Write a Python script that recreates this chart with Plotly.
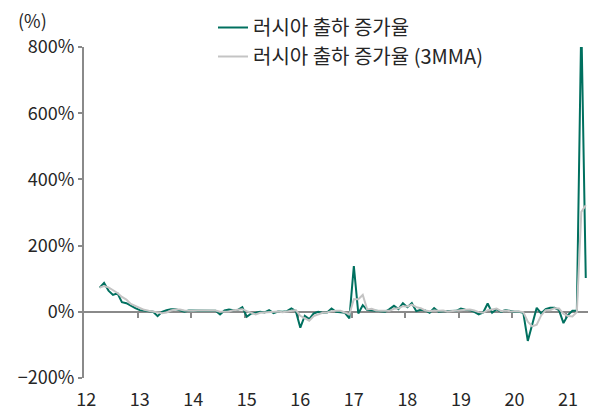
import plotly.graph_objects as go

# month index: Jan 2012 = 0 ; data from Apr 2012 (3) to May 2021 (112)
start_month = 3
year_labels = ["12", "13", "14", "15", "16", "17", "18", "19", "20", "21"]
y_ticks = [-200, 0, 200, 400, 600, 800]
y_tick_text = ["\u2212200%", "0%", "200%", "400%", "600%", "800%"]

name_main = "러시아 출하 증가율"
name_ma = "러시아 출하 증가율 (3MMA)"

growth = [
    73, 87, 64, 51, 56, 29, 26, 18, 11,                 # 2012 Apr-Dec
    5, 3, 2, 0, -13, 0, 5, 8, 8, 5, 0, 4,                # 2013
    4, 3, 5, 5, 5, 3, -8, 4, 7, 5, 6, 14,                # 2014
    -15, -5, -3, 0, -2, 5, -4, 1, 0, 2, 10, 2,           # 2015
    -48, -12, -22, -5, 0, -3, -2, 10, 0, -2, -3, -20,    # 2016
    138, -5, 20, 5, 3, 3, 2, 0, 8, 18, 8, 26,            # 2017
    14, 26, 2, 6, 4, -3, 11, 0, 2, 2, 4, 3,              # 2018
    10, 6, 5, 0, -8, -2, 25, -3, 8, 0, 5, 2,             # 2019
    0, 0, -3, -88, -40, 12, -5, 8, 12, 12, 5, -34,       # 2020
    -10, 3, 3, 880, 102,                                 # 2021 Jan-May
]

growth_3mma = [
    73, 78, 74, 66, 57, 45, 37, 24, 18,
    11, 6, 3, 1, -3, -4, -2, 4, 7, 7, 4, 3,
    3, 4, 4, 4, 5, 4, 0, 0, 1, 5, 6, 8,
    2, -2, -8, -3, -2, 1, 0, 1, -1, 1, 4, 5,
    -12, -19, -27, -13, -9, -3, -2, 2, 3, 3, -2, -8,
    38, 38, 51, 7, 9, 4, 3, 2, 3, 9, 11, 17,
    16, 22, 14, 11, 4, 2, 4, 3, 4, 1, 3, 3,
    5, 6, 7, 4, -1, -3, 5, 7, 10, 2, 4, 2,
    2, 1, -1, -30, -44, -39, -11, 5, 5, 11, 10, -6,
    -13, -14, -1, 302, 322,
]

x_vals = [start_month + i + 0.5 for i in range(len(growth))]
n_months = 113

FONT = "Noto Sans CJK KR, Malgun Gothic, sans-serif"
AXIS_COL = "#8a8a8a"
TEXT_COL = "#262626"
FIG_W, FIG_H = 592, 404   # page body adds an 8px margin

fig = go.Figure()
fig.add_trace(go.Scatter(x=x_vals, y=growth, mode="lines", name=name_main,
                         line=dict(color="#00705f", width=2), legendgroup="a"))
fig.add_trace(go.Scatter(x=x_vals, y=growth_3mma, mode="lines", name=name_ma,
                         line=dict(color="#c4c4c4", width=2), legendgroup="b"))
# invisible trace to carry the label axis
fig.add_trace(go.Scatter(x=[0.5], y=[None], xaxis="x2", showlegend=False,
                         hoverinfo="skip", mode="lines"))

fig.update_layout(
    width=FIG_W, height=FIG_H,
    margin=dict(l=76, r=12, t=39, b=34, autoexpand=False),
    paper_bgcolor="white", plot_bgcolor="white",
    font=dict(family=FONT, size=18, color=TEXT_COL),
    showlegend=True,
    legend=dict(x=205 / FIG_W, y=1.0, xref="container", yref="container",
                xanchor="left", yanchor="top",
                bgcolor="rgba(0,0,0,0)", tracegroupgap=0,
                font=dict(size=20, color=TEXT_COL)),
    xaxis=dict(range=[0, n_months], anchor="free", position=0.2,
               showline=True, linecolor=AXIS_COL, linewidth=2,
               ticks="outside", ticklen=5, tickwidth=2, tickcolor=AXIS_COL,
               tickvals=[12 * k for k in range(1, 10)],
               showticklabels=False, showgrid=False, zeroline=False,
               layer="below traces", automargin=False),
    xaxis2=dict(range=[0, n_months], overlaying="x", anchor="y", side="bottom",
                showline=False, showgrid=False, zeroline=False,
                ticks="outside", ticklen=5, tickcolor="rgba(0,0,0,0)",
                tickvals=[12 * k + 0.5 for k in range(len(year_labels))],
                ticktext=year_labels, tickfont=dict(size=18, color=TEXT_COL),
                automargin=False),
    yaxis=dict(range=[-200, 800], tickvals=y_ticks, ticktext=y_tick_text,
               showline=True, linecolor=AXIS_COL, linewidth=2,
               ticks="outside", ticklen=4, tickwidth=2, tickcolor=AXIS_COL,
               showgrid=False, zeroline=False, automargin=False,
               tickfont=dict(size=18, color=TEXT_COL)),
    annotations=[dict(text="(%)", xref="paper", yref="paper", x=-0.103, y=1.082,
                      xanchor="center", yanchor="middle", showarrow=False,
                      font=dict(size=18, color=TEXT_COL))],
)

fig.write_html("out.html")
